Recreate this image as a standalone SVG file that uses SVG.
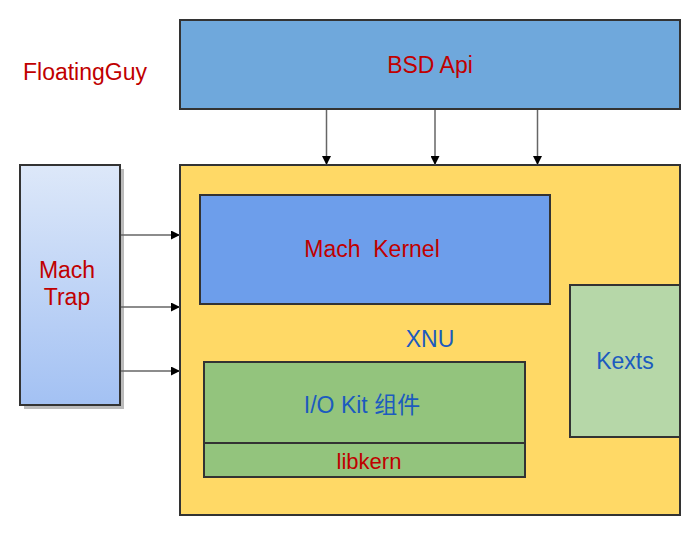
<svg xmlns="http://www.w3.org/2000/svg" width="700" height="535" viewBox="0 0 700 535">
<style>
.box{stroke:#333;stroke-width:2}
.t{font-family:"Liberation Sans",Arial,"Noto Sans CJK SC",sans-serif;font-size:23px;text-anchor:middle}
.red{fill:#c00000}
.blue{fill:#1c5bbf}
.conn{stroke:#666;stroke-width:1.5;fill:none}
</style>
<defs>
<linearGradient id="gTrap" x1="0" y1="0" x2="0" y2="1">
<stop offset="0" stop-color="#dde8f9"/>
<stop offset="1" stop-color="#a3c1f3"/>
</linearGradient>
<marker id="ah" viewBox="0 0 10 10" refX="10" refY="5" markerWidth="9" markerHeight="9" markerUnits="userSpaceOnUse" orient="auto">
<path d="M0,0 L10,5 L0,10 z" fill="#000"/>
</marker>
</defs>
<rect width="700" height="535" fill="#fff"/>
<text class="t red" x="85" y="80" style="text-anchor:middle">FloatingGuy</text>
<g id="bsd">
<rect class="box" x="180" y="20" width="500" height="89" fill="#6fa8dc"/>
<text class="t red" x="430" y="73">BSD Api</text>
</g>
<g id="xnu">
<rect class="box" x="180" y="165" width="500" height="350" fill="#ffd966"/>
<text class="t blue" x="430" y="347">XNU</text>
</g>
<g id="machtrap">
<rect x="24" y="169" width="100" height="240" fill="#bbb"/>
<rect class="box" x="20" y="165" width="100" height="240" fill="url(#gTrap)"/>
<text class="t red" x="67" y="278">Mach</text>
<text class="t red" x="67" y="305">Trap</text>
</g>
<g id="machkernel">
<rect class="box" x="200" y="195" width="350" height="109" fill="#6d9eeb"/>
<text class="t red" x="372" y="257" xml:space="preserve">Mach  Kernel</text>
</g>
<g id="kexts">
<rect class="box" x="570" y="285" width="110" height="152" fill="#b6d7a8"/>
<text class="t blue" x="625" y="369">Kexts</text>
</g>
<g id="iokit">
<rect class="box" x="204" y="362" width="321" height="81" fill="#93c47d"/>
<text class="t blue" x="362" y="413">I/O Kit 组件</text>
</g>
<g id="libkern">
<rect class="box" x="204" y="443" width="321" height="34" fill="#93c47d"/>
<text class="t red" x="369" y="469" style="font-size:22px">libkern</text>
</g>
<g id="connectors">
<line class="conn" x1="326.5" y1="110" x2="326.5" y2="165" marker-end="url(#ah)"/>
<line class="conn" x1="435" y1="110" x2="435" y2="165" marker-end="url(#ah)"/>
<line class="conn" x1="537.5" y1="110" x2="537.5" y2="165" marker-end="url(#ah)"/>
<line class="conn" x1="121" y1="235" x2="180" y2="235" marker-end="url(#ah)"/>
<line class="conn" x1="121" y1="307" x2="180" y2="307" marker-end="url(#ah)"/>
<line class="conn" x1="121" y1="371" x2="180" y2="371" marker-end="url(#ah)"/>
</g>
</svg>
